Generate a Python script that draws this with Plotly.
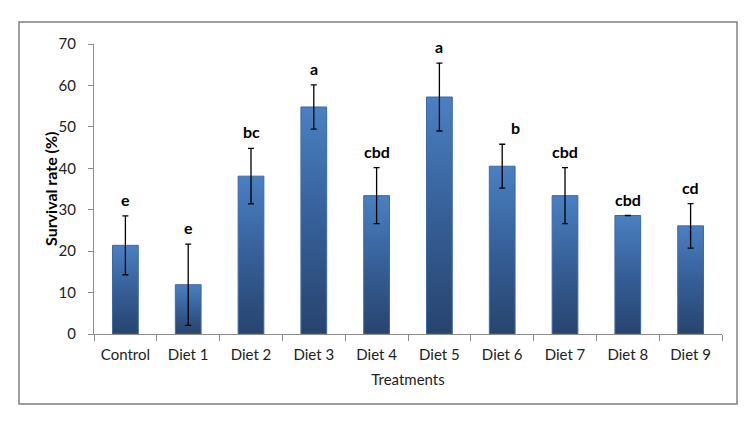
import plotly.graph_objects as go

categories = ["Control", "Diet 1", "Diet 2", "Diet 3", "Diet 4", "Diet 5", "Diet 6", "Diet 7", "Diet 8", "Diet 9"]
survival = [21.4, 11.9, 38.1, 54.8, 33.4, 57.2, 40.5, 33.4, 28.6, 26.1]
errors = [7.1, 9.8, 6.7, 5.35, 6.75, 8.2, 5.3, 6.75, 0.0, 5.35]
letters = ["e", "e", "bc", "a", "cbd", "a", "b", "cbd", "cbd", "cd"]

FONT = "Lato"
half_w = 0.205

fig = go.Figure()

for i, (cat, v) in enumerate(zip(categories, survival)):
    fig.add_trace(go.Scatter(
        x=[i - half_w, i - half_w, i + half_w, i + half_w, i - half_w],
        y=[0, v, v, 0, 0],
        mode="lines",
        fill="toself",
        line=dict(color="#3b69a5", width=1),
        fillgradient=dict(type="vertical",
                          colorscale=[[0, "#27446e"], [0.5, "#365f98"], [1, "#4a80c2"]]),
        showlegend=False,
        hoverinfo="skip",
    ))

fig.add_trace(go.Scatter(
    x=list(range(len(categories))),
    y=survival,
    mode="markers",
    marker=dict(size=1, opacity=0),
    error_y=dict(type="data", array=errors, visible=True, color="black", thickness=1.3, width=3),
    showlegend=False,
    hoverinfo="skip",
))

for i, (v, e, t) in enumerate(zip(survival, errors, letters)):
    fig.add_annotation(
        x=i, y=v + e, text="<b>%s</b>" % t, showarrow=False,
        yanchor="bottom", yshift=5, xshift=13 if t == "b" else 0,
        font=dict(family=FONT, size=16, color="black"),
    )

# y-axis title
fig.add_annotation(
    xref="paper", yref="paper", x=0, y=0.5, xanchor="center", yanchor="middle",
    xshift=-44, textangle=-90, showarrow=False,
    text="<b>Survival rate (%)</b>", font=dict(family=FONT, size=16, color="black"),
)

fig.add_shape(type="rect", xref="paper", yref="paper",
              x0=-0.1194, x1=1.0239, y0=-0.241, y1=1.076,
              line=dict(color="#808080", width=1.5), fillcolor="rgba(0,0,0,0)", layer="below")

fig.update_layout(
    width=743, height=419,
    margin=dict(l=86, r=29, t=36, b=93),
    paper_bgcolor="white", plot_bgcolor="white",
    font=dict(family=FONT, size=15, color="#222"),
    xaxis=dict(
        range=[-0.5, len(categories) - 0.5],
        tickvals=list(range(len(categories))), ticktext=categories,
        ticks="", showgrid=False, zeroline=False,
        showline=True, linecolor="#8c8c8c", linewidth=1,
        tickfont=dict(family=FONT, size=15, color="#222"),
        ticklabelstandoff=7,
        minor=dict(tickvals=[i - 0.5 for i in range(len(categories) + 1)],
                   ticks="outside", ticklen=6, tickcolor="#8c8c8c", showgrid=False),
        title=dict(text="Treatments", font=dict(family=FONT, size=15, color="#222"), standoff=12),
    ),
    yaxis=dict(
        range=[0, 70], dtick=10, ticks="outside", ticklen=5, tickcolor="#8c8c8c",
        showgrid=False, zeroline=False,
        showline=True, linecolor="#8c8c8c", linewidth=1,
        tickfont=dict(family=FONT, size=15, color="#222"),
        ticklabelstandoff=9,
    ),
)

fig.write_html("out.html")
